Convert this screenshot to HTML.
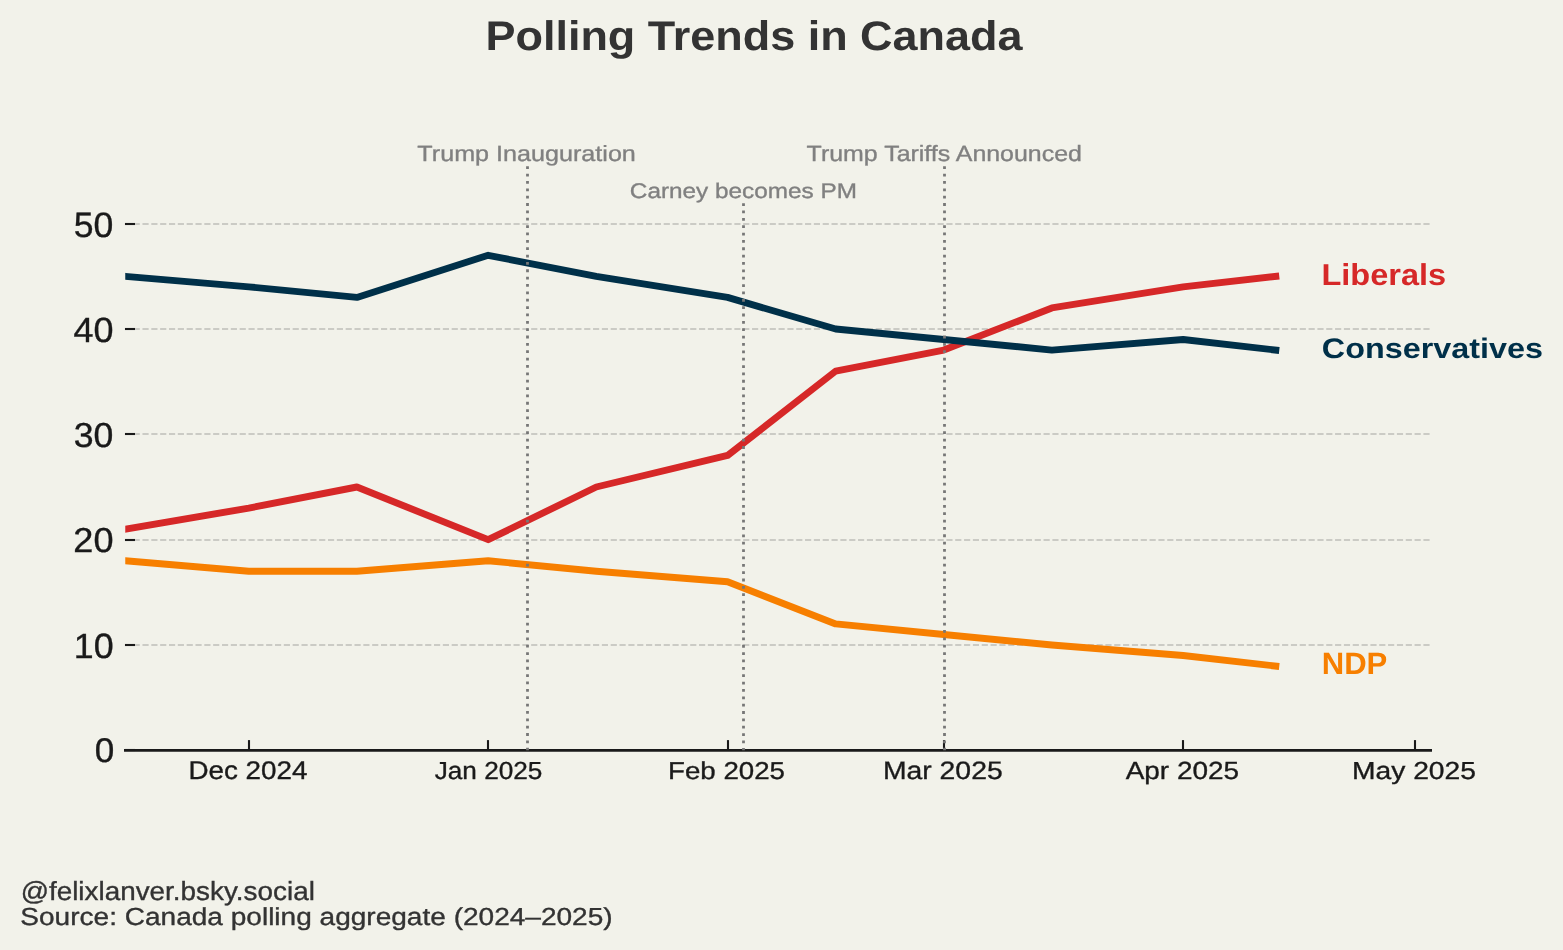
<!DOCTYPE html>
<html><head><meta charset="utf-8"><title>Polling Trends in Canada</title>
<style>
html,body{margin:0;padding:0;background:#f2f2ea;width:1563px;height:950px;overflow:hidden}
svg{display:block;will-change:transform}
text{font-family:"Liberation Sans",sans-serif;text-rendering:geometricPrecision}
</style></head><body>
<svg width="1563" height="950" viewBox="0 0 1563 950">
<rect x="0" y="0" width="1563" height="950" fill="#f2f2ea"/>
<text id="title" x="485.50" y="50.10" font-size="41.30" font-weight="bold" fill="#333333" textLength="536.98" lengthAdjust="spacingAndGlyphs">Polling Trends in Canada</text>
<g id="grid">
<line x1="124.81" y1="645" x2="1430" y2="645" stroke="#bebeb9" stroke-width="1.67" stroke-dasharray="6.166 2.668"/>
<line x1="124.81" y1="540" x2="1430" y2="540" stroke="#bebeb9" stroke-width="1.67" stroke-dasharray="6.166 2.668"/>
<line x1="124.81" y1="434" x2="1430" y2="434" stroke="#bebeb9" stroke-width="1.67" stroke-dasharray="6.166 2.668"/>
<line x1="124.81" y1="329" x2="1430" y2="329" stroke="#bebeb9" stroke-width="1.67" stroke-dasharray="6.166 2.668"/>
<line x1="124.81" y1="224" x2="1430" y2="224" stroke="#bebeb9" stroke-width="1.67" stroke-dasharray="6.166 2.668"/>
</g><g id="yticks">
<line x1="125" y1="750" x2="135" y2="750" stroke="#1a1a1a" stroke-width="2.1"/>
<line x1="125" y1="645" x2="135" y2="645" stroke="#1a1a1a" stroke-width="2.1"/>
<line x1="125" y1="540" x2="135" y2="540" stroke="#1a1a1a" stroke-width="2.1"/>
<line x1="125" y1="434" x2="135" y2="434" stroke="#1a1a1a" stroke-width="2.1"/>
<line x1="125" y1="329" x2="135" y2="329" stroke="#1a1a1a" stroke-width="2.1"/>
<line x1="125" y1="224" x2="135" y2="224" stroke="#1a1a1a" stroke-width="2.1"/>
</g>
<text id="y50" x="73.83" y="236.66" font-size="35.28" font-weight="normal" fill="#1a1a1a" stroke="#1a1a1a" stroke-width="0.35" textLength="39.60" lengthAdjust="spacingAndGlyphs">50</text>
<text id="y40" x="73.58" y="341.61" font-size="35.01" font-weight="normal" fill="#1a1a1a" stroke="#1a1a1a" stroke-width="0.35" textLength="40.02" lengthAdjust="spacingAndGlyphs">40</text>
<text id="y30" x="73.76" y="446.71" font-size="34.60" font-weight="normal" fill="#1a1a1a" stroke="#1a1a1a" stroke-width="0.35" textLength="39.66" lengthAdjust="spacingAndGlyphs">30</text>
<text id="y20" x="73.35" y="552.05" font-size="34.60" font-weight="normal" fill="#1a1a1a" stroke="#1a1a1a" stroke-width="0.35" textLength="40.12" lengthAdjust="spacingAndGlyphs">20</text>
<text id="y10" x="73.82" y="657.51" font-size="35.05" font-weight="normal" fill="#1a1a1a" stroke="#1a1a1a" stroke-width="0.35" textLength="39.79" lengthAdjust="spacingAndGlyphs">10</text>
<text id="y0" x="94.88" y="761.85" font-size="34.29" font-weight="normal" fill="#1a1a1a" stroke="#1a1a1a" stroke-width="0.35" textLength="19.55" lengthAdjust="spacingAndGlyphs">0</text>
<defs><clipPath id="ax"><rect x="125.25" y="100" width="1305" height="700"/></clipPath></defs>
<g id="lines" clip-path="url(#ax)" fill="none" stroke-width="6.9" stroke-linecap="square" stroke-linejoin="round">
<path d="M125.25,529.14 L248.80,508.07 L356.91,487.01 L488.18,539.67 L596.29,487.01 L727.56,455.41 L835.66,371.14 L943.77,350.08 L1051.88,307.94 L1183.15,286.88 L1275.81,276.35" stroke="#d62828"/>
<path d="M125.25,276.35 L248.80,286.88 L356.91,297.41 L488.18,255.28 L596.29,276.35 L727.56,297.41 L835.66,329.01 L943.77,339.54 L1051.88,350.08 L1183.15,339.54 L1275.81,350.08" stroke="#003049"/>
<path d="M125.25,560.74 L248.80,571.27 L356.91,571.27 L488.18,560.74 L596.29,571.27 L727.56,581.80 L835.66,623.93 L943.77,634.47 L1051.88,645.00 L1183.15,655.53 L1275.81,666.07" stroke="#f77f00"/>
</g>
<g id="spine">
<line x1="124" y1="750.4" x2="1432" y2="750.4" stroke="#1a1a1a" stroke-width="2.8"/>
<line x1="249" y1="740.1" x2="249" y2="750" stroke="#1a1a1a" stroke-width="2.1"/>
<line x1="488" y1="740.1" x2="488" y2="750" stroke="#1a1a1a" stroke-width="2.1"/>
<line x1="728" y1="740.1" x2="728" y2="750" stroke="#1a1a1a" stroke-width="2.1"/>
<line x1="944" y1="740.1" x2="944" y2="750" stroke="#1a1a1a" stroke-width="2.1"/>
<line x1="1183" y1="740.1" x2="1183" y2="750" stroke="#1a1a1a" stroke-width="2.1"/>
<line x1="1415" y1="740.1" x2="1415" y2="750" stroke="#1a1a1a" stroke-width="2.1"/>
</g>
<text id="xDec" x="188.45" y="779.30" font-size="25.52" font-weight="normal" fill="#1a1a1a" stroke="#1a1a1a" stroke-width="0.35" textLength="119.07" lengthAdjust="spacingAndGlyphs">Dec 2024</text>
<text id="xJan" x="434.67" y="779.30" font-size="24.63" font-weight="normal" fill="#1a1a1a" stroke="#1a1a1a" stroke-width="0.35" textLength="107.76" lengthAdjust="spacingAndGlyphs">Jan 2025</text>
<text id="xFeb" x="668.06" y="779.30" font-size="24.35" font-weight="normal" fill="#1a1a1a" stroke="#1a1a1a" stroke-width="0.35" textLength="116.89" lengthAdjust="spacingAndGlyphs">Feb 2025</text>
<text id="xMar" x="882.90" y="779.30" font-size="25.18" font-weight="normal" fill="#1a1a1a" stroke="#1a1a1a" stroke-width="0.35" textLength="119.78" lengthAdjust="spacingAndGlyphs">Mar 2025</text>
<text id="xApr" x="1125.70" y="779.30" font-size="24.74" font-weight="normal" fill="#1a1a1a" stroke="#1a1a1a" stroke-width="0.35" textLength="113.43" lengthAdjust="spacingAndGlyphs">Apr 2025</text>
<text id="xMay" x="1351.98" y="779.30" font-size="24.59" font-weight="normal" fill="#1a1a1a" stroke="#1a1a1a" stroke-width="0.35" textLength="123.96" lengthAdjust="spacingAndGlyphs">May 2025</text>
<g id="events">
<line x1="527.5" y1="166.3" x2="527.5" y2="750.33" stroke="#777777" stroke-width="2.78" stroke-dasharray="2.778 4.583"/>
<line x1="743.5" y1="203.2" x2="743.5" y2="750.33" stroke="#777777" stroke-width="2.78" stroke-dasharray="2.778 4.583"/>
<line x1="944.5" y1="166.3" x2="944.5" y2="750.33" stroke="#777777" stroke-width="2.78" stroke-dasharray="2.778 4.583"/>
</g>
<text id="evInaug" x="417.39" y="160.90" font-size="22.00" font-weight="normal" fill="#808080" stroke="#808080" stroke-width="0.35" textLength="218.48" lengthAdjust="spacingAndGlyphs">Trump Inauguration</text>
<text id="evCarney" x="629.86" y="197.90" font-size="21.20" font-weight="normal" fill="#808080" stroke="#808080" stroke-width="0.35" textLength="227.04" lengthAdjust="spacingAndGlyphs">Carney becomes PM</text>
<text id="evTariff" x="806.63" y="161.10" font-size="22.09" font-weight="normal" fill="#808080" stroke="#808080" stroke-width="0.35" textLength="275.29" lengthAdjust="spacingAndGlyphs">Trump Tariffs Announced</text>
<text id="labLib" x="1321.46" y="285.00" font-size="30.23" font-weight="bold" fill="#d62828" textLength="124.69" lengthAdjust="spacingAndGlyphs">Liberals</text>
<text id="labCon" x="1321.79" y="357.70" font-size="28.24" font-weight="bold" fill="#003049" textLength="221.18" lengthAdjust="spacingAndGlyphs">Conservatives</text>
<text id="labNdp" x="1321.70" y="674.00" font-size="30.74" font-weight="bold" fill="#f77f00" textLength="65.60" lengthAdjust="spacingAndGlyphs">NDP</text>
<text id="foot1" x="20.65" y="900.10" font-size="26.16" font-weight="normal" fill="#333333" stroke="#333333" stroke-width="0.35" textLength="294.19" lengthAdjust="spacingAndGlyphs">@felixlanver.bsky.social</text>
<text id="foot2" x="20.31" y="924.90" font-size="24.64" font-weight="normal" fill="#333333" stroke="#333333" stroke-width="0.35" textLength="592.36" lengthAdjust="spacingAndGlyphs">Source: Canada polling aggregate (2024–2025)</text>
</svg></body></html>
